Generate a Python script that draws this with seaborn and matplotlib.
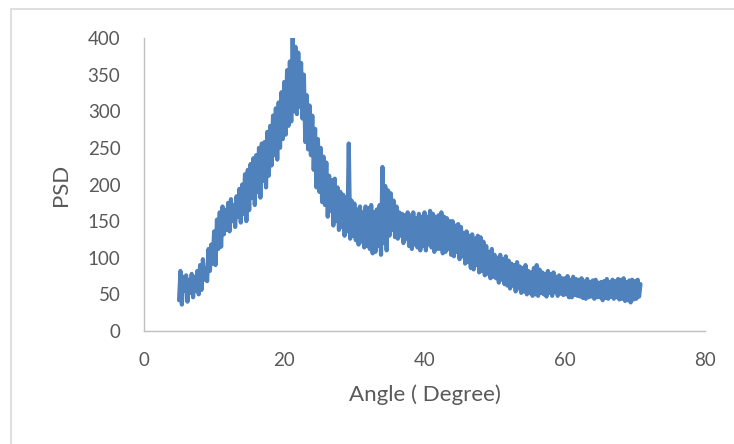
import numpy as np
import pandas as pd
import matplotlib
matplotlib.use("Agg")
import matplotlib.pyplot as plt
from matplotlib.patches import Rectangle
import seaborn as sns

# Diffraction scan: PSD sampled every 0.2 degree, one row per whole degree (5.0 .. 70.8)
angle_start = 5.0
angle_step = 0.2
psd_rows = [
    [42, 82, 36, 74, 55],        # 5
    [76, 40, 70, 52, 78],        # 6
    [46, 74, 55, 82, 50],        # 7
    [90, 56, 98, 70, 86],        # 8
    [68, 112, 82, 118, 92],      # 9
    [136, 90, 152, 112, 162],    # 10
    [115, 170, 132, 165, 138],   # 11
    [175, 136, 180, 150, 172],   # 12
    [142, 184, 156, 194, 148],   # 13
    [200, 160, 214, 150, 220],   # 14
    [165, 228, 182, 236, 172],   # 15
    [240, 190, 250, 182, 256],   # 16
    [205, 258, 196, 272, 212],   # 17
    [280, 226, 294, 240, 304],   # 18
    [234, 312, 250, 326, 262],   # 19
    [340, 268, 356, 280, 368],   # 20
    [286, 400, 300, 388, 296],   # 21
    [380, 306, 366, 290, 350],   # 22
    [258, 322, 248, 308, 240],   # 23
    [294, 220, 276, 196, 262],   # 24
    [190, 250, 176, 238, 172],   # 25
    [230, 156, 212, 164, 206],   # 26
    [144, 208, 150, 196, 138],   # 27
    [190, 142, 186, 130, 182],   # 28
    [136, 256, 126, 178, 130],   # 29
    [174, 124, 166, 118, 170],   # 30
    [122, 162, 114, 170, 116],   # 31
    [168, 112, 172, 106, 162],   # 32
    [108, 166, 116, 172, 104],   # 33
    [224, 120, 198, 110, 192],   # 34
    [130, 188, 138, 178, 128],   # 35
    [170, 126, 162, 130, 160],   # 36
    [120, 158, 126, 162, 116],   # 37
    [158, 112, 162, 118, 154],   # 38
    [114, 160, 110, 156, 116],   # 39
    [162, 110, 156, 118, 164],   # 40
    [114, 160, 108, 156, 112],   # 41
    [158, 112, 162, 106, 156],   # 42
    [108, 154, 112, 150, 104],   # 43
    [150, 102, 144, 108, 146],   # 44
    [98, 142, 102, 134, 92],     # 45
    [136, 94, 130, 86, 132],     # 46
    [84, 126, 90, 130, 80],      # 47
    [128, 82, 122, 76, 116],     # 48
    [78, 108, 72, 112, 74],      # 49
    [104, 72, 100, 66, 104],     # 50
    [70, 98, 64, 102, 62],       # 51
    [96, 58, 92, 62, 90],        # 52
    [54, 94, 58, 88, 52],        # 53
    [86, 54, 90, 50, 82],        # 54
    [52, 80, 48, 86, 50],        # 55
    [90, 48, 84, 52, 80],        # 56
    [50, 78, 47, 82, 52],        # 57
    [78, 48, 80, 53, 74],        # 58
    [48, 76, 51, 72, 49],        # 59
    [72, 50, 75, 46, 70],        # 60
    [46, 74, 49, 71, 48],        # 61
    [70, 47, 72, 45, 68],        # 62
    [44, 71, 46, 67, 47],        # 63
    [69, 44, 70, 46, 66],        # 64
    [46, 67, 42, 68, 45],        # 65
    [71, 44, 67, 47, 70],        # 66
    [44, 68, 46, 71, 43],        # 67
    [70, 44, 72, 41, 67],        # 68
    [42, 69, 39, 70, 43],        # 69
    [68, 44, 70, 47, 64],        # 70
]
x_ticks = [0, 20, 40, 60, 80]
y_ticks = [0, 50, 100, 150, 200, 250, 300, 350, 400]
x_title = "Angle ( Degree)"
y_title = "PSD"

psd = np.array([v for row in psd_rows for v in row], dtype=float)
angle = angle_start + angle_step * np.arange(len(psd))
df = pd.DataFrame({"angle": angle, "psd": psd})

sns.set_style("white")
plt.rcParams["font.family"] = ["Lato", "DejaVu Sans"]

W, H = 734, 444
fig = plt.figure(figsize=(W / 100, H / 100), dpi=100)
ax = fig.add_axes([144 / W, 1 - 331 / H, (705 - 144) / W, (331 - 38) / H])

sns.lineplot(data=df, x="angle", y="psd", ax=ax, color="#4F81BD",
             linewidth=3.0, estimator=None, sort=False)

ax.set_xlim(0, 80)
ax.set_ylim(0, 400)
ax.set_xticks(x_ticks)
ax.set_yticks(y_ticks)
ax.tick_params(axis="both", length=0, labelsize=13.5, labelcolor="#595959")
ax.tick_params(axis="y", pad=17)
ax.tick_params(axis="x", pad=15)
ax.set_xlabel(x_title, fontsize=16, color="#595959", labelpad=11)
ax.set_ylabel(y_title, fontsize=16, color="#595959", labelpad=12)

for side in ["top", "right"]:
    ax.spines[side].set_visible(False)
for side in ["left", "bottom"]:
    ax.spines[side].set_color("#BFBFBF")
    ax.spines[side].set_linewidth(1.0)

# Chart-area frame
frame = Rectangle((11 / W, -0.05), 1.1, 1 - 9 / H + 0.05, transform=fig.transFigure,
                  fill=False, edgecolor="#D9D9D9", linewidth=1.2, clip_on=False)
fig.add_artist(frame)

fig.savefig("out.png", dpi=100)
